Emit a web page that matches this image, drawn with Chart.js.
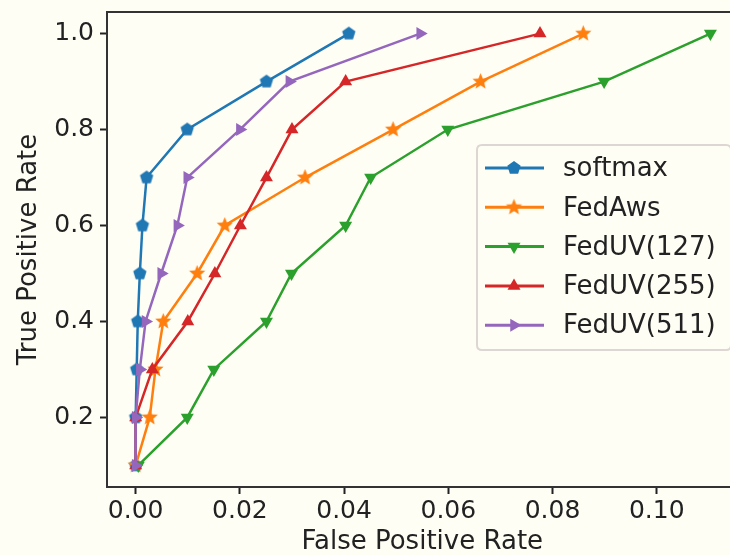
<!DOCTYPE html>
<html><head><meta charset="utf-8">
<script src="https://cdn.jsdelivr.net/npm/chart.js@4"></script>
<style>
html,body{margin:0;padding:0;background:#fffef5;overflow:hidden;width:730px;height:555px}
#wrap{width:745px;height:555px}
canvas{display:block}
</style></head><body>
<div id="wrap"><canvas id="c" width="745" height="555"></canvas></div>
<script>
// ---- data ----
const tpr        = [0.1, 0.2, 0.3, 0.4, 0.5, 0.6, 0.7, 0.8, 0.9, 1.0];
const softmaxFPR = [0.0, 0.0, 0.0002, 0.0004, 0.0008, 0.0013, 0.0021, 0.0099, 0.0251, 0.0409];
const fedAwsFPR  = [0.0, 0.0027, 0.0038, 0.0053, 0.0118, 0.0171, 0.0325, 0.0494, 0.0662, 0.0859];
const fedUV127FPR= [0.0005, 0.0099, 0.0150, 0.0251, 0.0299, 0.0403, 0.0451, 0.0599, 0.0899, 0.1103];
const fedUV255FPR= [0.0, 0.0, 0.0032, 0.0100, 0.0152, 0.0201, 0.0251, 0.0300, 0.0403, 0.0776];
const fedUV511FPR= [0.0, 0.0, 0.0008, 0.0019, 0.0049, 0.0080, 0.0099, 0.0200, 0.0295, 0.0546];
const seriesNames = ['softmax', 'FedAws', 'FedUV(127)', 'FedUV(255)', 'FedUV(511)'];
const xTicks = [0.00, 0.02, 0.04, 0.06, 0.08, 0.10];
const yTicks = [0.2, 0.4, 0.6, 0.8, 1.0];

// ---- styles ----
const colors = ['#1f77b4', '#ff7f0e', '#2ca02c', '#d62728', '#9467bd'];
function polyCanvas(color, n, r, inner) {
  const s = Math.ceil(2 * r + 4);
  const c = document.createElement('canvas'); c.width = c.height = s;
  const g = c.getContext('2d'); g.fillStyle = color; g.beginPath();
  const pts = inner ? 2 * n : n;
  for (let i = 0; i < pts; i++) {
    const rr = inner ? (i % 2 ? r * inner : r) : r;
    const a = -Math.PI / 2 + i * Math.PI * 2 / pts;
    g.lineTo(s / 2 + rr * Math.cos(a), s / 2 + rr * Math.sin(a));
  }
  g.closePath(); g.fill(); return c;
}
const markers = [
  {pointStyle: polyCanvas(colors[0], 5, 7), rotation: 0},
  {pointStyle: polyCanvas(colors[1], 5, 8.5, 0.45), rotation: 0},
  {pointStyle: 'triangle', rotation: 180},
  {pointStyle: 'triangle', rotation: 0},
  {pointStyle: 'triangle', rotation: 90},
];
const allFPR = [softmaxFPR, fedAwsFPR, fedUV127FPR, fedUV255FPR, fedUV511FPR];

const datasets = seriesNames.map((name, i) => ({
  label: name,
  data: allFPR[i].map((x, k) => ({x: x, y: tpr[k]})),
  showLine: true,
  borderColor: colors[i],
  backgroundColor: colors[i],
  borderWidth: 2.5,
  pointStyle: markers[i].pointStyle,
  rotation: markers[i].rotation,
  pointRadius: 7.5,
  pointHoverRadius: 7.5,
  pointBorderWidth: 0,
  order: 5 - i,
}));

const TEXT = '#222';
const FONT = 'DejaVu Sans';

const framePlugin = {
  id: 'frame',
  afterDatasetsDraw(chart) {
    const a = chart.chartArea, ctx = chart.ctx;
    ctx.save(); ctx.strokeStyle = '#333'; ctx.lineWidth = 2;
    ctx.strokeRect(a.left, a.top, a.right - a.left, a.bottom - a.top);
    ctx.restore();
  }
};

const legendPlugin = {
  id: 'mplLegend',
  afterDraw(chart) {
    const ctx = chart.ctx;
    const bx = 477, by = 145, bw = 254, bh = 205, r = 5;
    ctx.save();
    ctx.beginPath();
    ctx.moveTo(bx + r, by); ctx.lineTo(bx + bw - r, by); ctx.quadraticCurveTo(bx + bw, by, bx + bw, by + r);
    ctx.lineTo(bx + bw, by + bh - r); ctx.quadraticCurveTo(bx + bw, by + bh, bx + bw - r, by + bh);
    ctx.lineTo(bx + r, by + bh); ctx.quadraticCurveTo(bx, by + bh, bx, by + bh - r);
    ctx.lineTo(bx, by + r); ctx.quadraticCurveTo(bx, by, bx + r, by); ctx.closePath();
    ctx.fillStyle = 'rgba(255,254,245,0.85)'; ctx.fill();
    ctx.strokeStyle = '#ddd6d2'; ctx.lineWidth = 2; ctx.stroke();
    chart.data.datasets.forEach((ds, i) => {
      const y = 168 + i * 39.3;
      ctx.strokeStyle = ds.borderColor; ctx.lineWidth = 3;
      ctx.beginPath(); ctx.moveTo(485, y); ctx.lineTo(544, y); ctx.stroke();
      ctx.fillStyle = ds.backgroundColor;
      Chart.helpers.drawPoint(ctx, {pointStyle: ds.pointStyle, rotation: ds.rotation, radius: 7.5, borderWidth: 0}, 514, y);
      ctx.fillStyle = TEXT; ctx.font = '26px "' + FONT + '"';
      ctx.textBaseline = 'middle'; ctx.textAlign = 'left';
      ctx.fillText(ds.label, 563, y + 1.5);
    });
    ctx.restore();
  }
};

const bgPlugin = {
  id: 'bg',
  beforeDraw(chart) {
    const ctx = chart.ctx; ctx.save(); ctx.fillStyle = '#fffef5';
    ctx.fillRect(0, 0, chart.width, chart.height); ctx.restore();
  }
};

new Chart(document.getElementById('c'), {
  type: 'scatter',
  data: {datasets},
  plugins: [bgPlugin, framePlugin, legendPlugin],
  options: {
    responsive: false,
    animation: false,
    devicePixelRatio: 1,
    layout: {padding: {left: 0, top: 12, right: 3, bottom: 0}},
    plugins: {legend: {display: false}, tooltip: {enabled: false}},
    scales: {
      x: {
        type: 'linear', min: -0.0055, max: 0.1155,
        afterBuildTicks: s => { s.ticks = xTicks.map(v => ({value: v})); },
        afterFit: s => { s.height = 68; s.paddingLeft = 0; s.paddingRight = 0; },
        grid: {drawOnChartArea: false, drawTicks: true, tickLength: 7, tickColor: '#222', tickWidth: 2},
        border: {display: false},
        ticks: {color: TEXT, font: {family: FONT, size: 25}, padding: 2, maxRotation: 0,
                callback: v => Number(v).toFixed(2)},
        title: {display: true, text: 'False Positive Rate', color: TEXT,
                font: {family: FONT, size: 26}, padding: {top: 0, bottom: -3}}
      },
      y: {
        type: 'linear', min: 0.055, max: 1.045,
        afterBuildTicks: s => { s.ticks = yTicks.map(v => ({value: v})); },
        afterFit: s => { s.width = 107; s.paddingTop = 0; s.paddingBottom = 0; },
        grid: {drawOnChartArea: false, drawTicks: true, tickLength: 7, tickColor: '#222', tickWidth: 2},
        border: {display: false},
        ticks: {color: TEXT, font: {family: FONT, size: 25}, padding: 6,
                callback: v => Number(v).toFixed(1)},
        title: {display: true, text: 'True Positive Rate', color: TEXT,
                font: {family: FONT, size: 26}, padding: {top: 14, bottom: 0}}
      }
    }
  }
});
</script>
</body></html>
